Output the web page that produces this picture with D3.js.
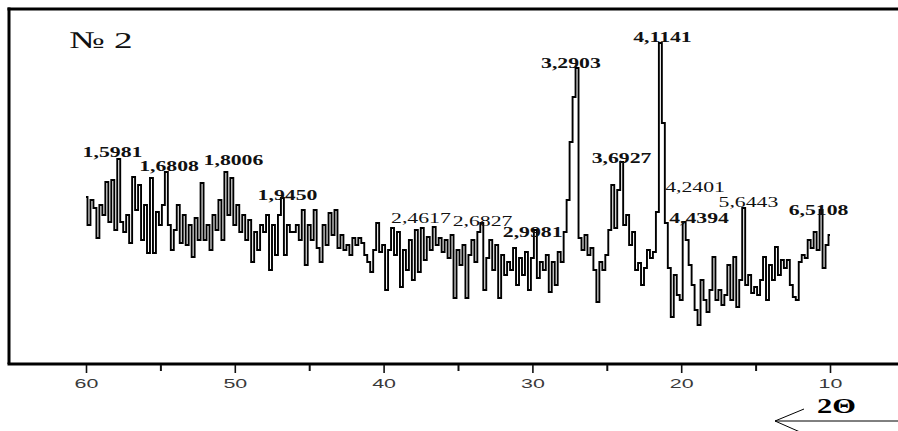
<!DOCTYPE html>
<html>
<head>
<meta charset="utf-8">
<script src="https://cdn.jsdelivr.net/npm/d3@7/dist/d3.min.js"></script>
<style>
  body { margin: 0; background: #fff; }
  svg { display: block; }
</style>
</head>
<body>
<svg id="chart" width="898" height="431"></svg>
<script>
// scan grid: 60 -> 10 deg 2theta, 0.2 deg step
const scanStart = 60;
const scanStep = 0.2;

// intensity, arbitrary units (one row = 2 deg)
const intensity = [
  167, 139, 164, 156, 126, 159, 149, 182, 142, 184,
  134, 205, 142, 132, 149, 121, 187, 154, 179, 124,
  159, 111, 186, 111, 152, 139, 159, 192, 139, 114,
  134, 159, 121, 149, 119, 139, 107, 146, 124, 181,
  124, 139, 114, 149, 134, 164, 124, 192, 149, 186,
  139, 159, 132, 149, 124, 144, 102, 132, 114, 139,
  132, 149, 94, 139, 109, 149, 166, 109, 139, 132,
  132, 139, 124, 154, 99, 139, 124, 154, 116, 102,
  139, 119, 151, 129, 154, 116, 129, 114, 119, 109,
  126, 119, 126, 121, 109, 102, 92, 114, 141, 112,
  119, 74, 114, 136, 109, 132, 77, 114, 94, 124,
  84, 134, 92, 136, 104, 127, 114, 137, 119, 126,
  112, 124, 106, 129, 66, 114, 99, 119, 66, 109,
  124, 102, 132, 141, 74, 106, 124, 94, 119, 66,
  109, 89, 102, 94, 116, 79, 106, 89, 112, 74,
  106, 134, 86, 102, 94, 109, 72, 102, 79, 112,
  102, 132, 164, 222, 267, 296, 126, 114, 129, 109,
  116, 94, 62, 102, 94, 109, 134, 179, 136, 174,
  202, 139, 149, 119, 132, 94, 101, 79, 96, 114,
  106, 112, 152, 321, 241, 141, 96, 47, 89, 69,
  64, 142, 124, 99, 79, 54, 39, 84, 64, 52,
  74, 107, 64, 74, 59, 69, 99, 64, 107, 57,
  84, 156, 79, 89, 71, 77, 69, 84, 107, 64,
  99, 84, 117, 89, 104, 96, 104, 79, 67, 64,
  102, 109, 106, 124, 116, 132, 114, 154, 96, 119,
  129
];

const majorTicks = [60, 50, 40, 30, 20, 10];
const minorTicks = [55, 45, 35, 25, 15];

// d-spacing labels: text, 2theta of label centre, intensity at baseline
const peakText  = ['1,5981', '1,6808', '1,8006', '1,9450', '2,4617', '2,6827', '2,9981',
                   '3,2903', '3,6927', '4,1141', '4,2401', '4,4394', '5,6443', '6,5108'];
const peakAngle = [58.22, 54.42, 50.09, 46.46, 37.49, 33.35, 29.98,
                   27.41, 24.01, 21.26, 19.07, 18.80, 15.48, 10.77];
const peakLevel = [207, 193, 199, 164, 141, 138, 127,
                   296, 201, 322, 172, 141, 157, 149];
const peakBold  = [1, 1, 1, 1, 0, 0, 1, 1, 1, 1, 0, 1, 0, 1];

const sampleTitle = '№ 2';
const axisTitle = '2Θ';

const W = 898, H = 431;
const frame = { left: 9, top: 9, bottom: 364, right: W };

const svg = d3.select('#chart');

const x = d3.scaleLinear().domain([60, 10]).range([86, 830]);
const y = d3.scaleLinear().domain([0, 356]).range([frame.bottom, 8]);

const points = intensity.map((v, i) => ({ t: scanStart - i * scanStep, v }));

// frame
svg.append('line')
    .attr('x1', frame.left).attr('y1', frame.top - 1.5)
    .attr('x2', frame.left).attr('y2', frame.bottom)
    .attr('stroke', '#000').attr('stroke-width', 3);
svg.append('line')
    .attr('x1', frame.left - 1.5).attr('y1', frame.top)
    .attr('x2', frame.right).attr('y2', frame.top)
    .attr('stroke', '#000').attr('stroke-width', 3);
svg.append('line')
    .attr('x1', frame.left - 1.5).attr('y1', frame.bottom)
    .attr('x2', frame.right).attr('y2', frame.bottom)
    .attr('stroke', '#000').attr('stroke-width', 3);

// axis ticks
const axisG = svg.append('g').attr('transform', `translate(0,${frame.bottom + 1})`);
axisG.call(d3.axisBottom(x).tickValues(majorTicks).tickSize(8).tickFormat(d3.format('d')));
axisG.select('.domain').remove();
axisG.selectAll('.tick line').attr('stroke', '#111').attr('stroke-width', 1.6);
axisG.selectAll('.tick text')
    .attr('fill', '#3a3a3a')
    .attr('font-family', 'Liberation Sans, Arial, sans-serif')
    .attr('font-size', 13)
    .attr('y', 0)
    .attr('dy', 0)
    .attr('transform', 'translate(0,23) scale(1.65,1)');

const minorG = svg.append('g').attr('transform', `translate(0,${frame.bottom + 1})`);
minorG.call(d3.axisBottom(x).tickValues(minorTicks).tickSize(6).tickFormat(''));
minorG.select('.domain').remove();
minorG.selectAll('.tick line').attr('stroke', '#111').attr('stroke-width', 2);

// diffraction pattern
svg.append('path')
    .datum(points)
    .attr('fill', 'none')
    .attr('stroke', '#000')
    .attr('stroke-width', 1.9)
    .attr('d', d3.line()
        .curve(d3.curveStep)
        .x(d => x(d.t))
        .y(d => y(d.v)));

// peak labels
svg.append('g')
    .selectAll('text')
    .data(peakText)
    .join('text')
    .attr('transform', (d, i) => `translate(${x(peakAngle[i])},${y(peakLevel[i])}) scale(1.45,1)`)
    .attr('text-anchor', 'middle')
    .attr('font-family', 'Liberation Serif, Times New Roman, serif')
    .attr('font-size', 15)
    .attr('font-weight', (d, i) => peakBold[i] ? 'bold' : 'normal')
    .attr('fill', '#111')
    .text(d => d);

// sample number
svg.append('text')
    .attr('transform', 'translate(101,48) scale(1.55,1)')
    .attr('text-anchor', 'middle')
    .attr('font-family', 'Liberation Serif, Times New Roman, serif')
    .attr('font-size', 24)
    .attr('fill', '#111')
    .text(sampleTitle);

// 2theta arrow
svg.append('path')
    .attr('d', 'M898,421 H775 M804,409 L775,421 L800,432')
    .attr('fill', 'none')
    .attr('stroke', '#000')
    .attr('stroke-width', 1);

svg.append('text')
    .attr('transform', 'translate(817,413) scale(1.45,1)')
    .attr('font-family', 'Liberation Serif, Times New Roman, serif')
    .attr('font-size', 21)
    .attr('font-weight', 'bold')
    .attr('fill', '#000')
    .text(axisTitle);
</script>
</body>
</html>
